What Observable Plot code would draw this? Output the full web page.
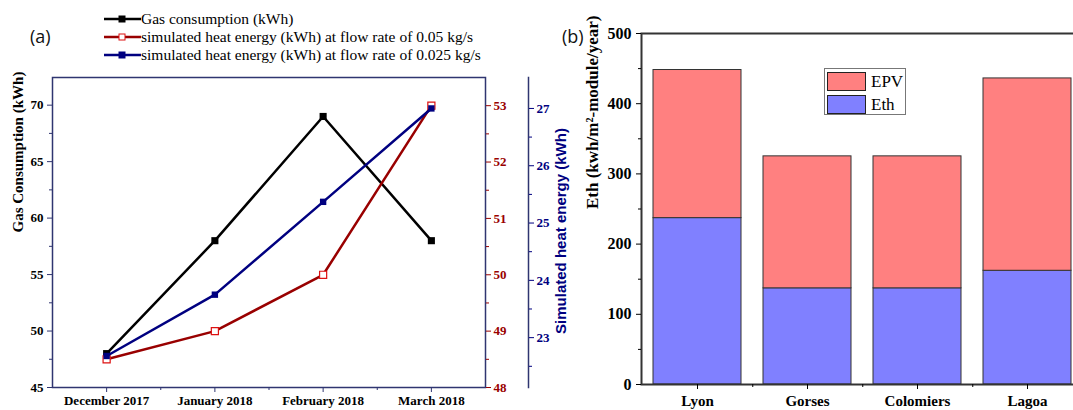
<!DOCTYPE html>
<html>
<head>
<meta charset="utf-8">
<script src="https://cdn.jsdelivr.net/npm/d3@7"></script>
<script src="https://cdn.jsdelivr.net/npm/@observablehq/plot@0.6"></script>
<style>
  html, body { margin: 0; padding: 0; background: white; overflow: hidden; }
  #root { position: relative; width: 1073px; height: 410px; overflow: hidden; }
  #root svg text { font-family: "Liberation Serif", "Times New Roman", serif !important; }
  .layer { position: absolute; top: 0; }
  .lbl { position: absolute; font-family: "Open Sans", "Liberation Sans", sans-serif; font-size: 18px; color: #111; }
  #legA { position: absolute; left: 104px; top: 10px; font-family: "Liberation Serif", "DejaVu Serif", serif; font-size: 15.5px; color: #000; }
  #legA .row { height: 18px; display: flex; align-items: center; white-space: nowrap; }
  #legB { position: absolute; left: 824px; top: 68px; width: 80px; height: 45px; border: 1.5px solid #777; background: white; font-family: "Liberation Serif", serif; font-size: 17px; }
  #legB .row { display: flex; align-items: center; height: 21px; margin: 2px 0 0 2px; }
  #legB .sw { width: 37px; height: 17px; border: 1px solid #222; margin-right: 5px; }
  #blueTitle { position: absolute; left: 560px; top: 231px; transform: translate(-50%, -50%) rotate(-90deg); white-space: nowrap;
    font-family: "Liberation Sans", Arial, sans-serif; font-weight: bold; font-size: 15px; color: #000080; }
</style>
</head>
<body>
<div id="root"></div>
<script>
// ---- Panel (a) data ----
const months = ["December 2017", "January 2018", "February 2018", "March 2018"];
const gas = [48, 58, 69, 58];
const heat005 = [48.5, 49.0, 50.0, 53.0];
const heat0025 = [22.68, 23.75, 25.37, 27.0];
const gasTicks = [45, 50, 55, 60, 65, 70];
const gasMinor = [47.5, 52.5, 57.5, 62.5, 67.5];
const redTicks = [48, 49, 50, 51, 52, 53];
const redMinor = [48.5, 49.5, 50.5, 51.5, 52.5];
const blueTicks = [23, 24, 25, 26, 27];
const blueMinor = [22.5, 23.5, 24.5, 25.5, 26.5];
const seriesNames = [
  "Gas consumption (kWh)",
  "simulated heat energy (kWh) at flow rate of 0.05 kg/s",
  "simulated heat energy (kWh) at flow rate of 0.025 kg/s"
];

// ---- Panel (b) data ----
const cities = ["Lyon", "Gorses", "Colomiers", "Lagoa"];
const eth = [237, 137, 137, 162];
const epv = [211, 188, 188, 274];
const barTicks = [0, 100, 200, 300, 400, 500];
const barMinor = [50, 150, 250, 350, 450];

const root = document.getElementById("root");
const navy = "#000080", dred = "#990000", frameC = "#2f3570";
const fmt = d => String(d);

const W1 = 600, H = 410;
const vert = { height: H, marginTop: 77, marginBottom: 23, marginLeft: 52 };
const common = {
  ...vert, width: W1, marginRight: W1 - 485,
  style: { background: "transparent", overflow: "visible" },
  x: { type: "linear", domain: [0.5, 4.5], axis: null }
};
const tbl = (vals) => vals.map((v, i) => ({ x: i + 1, y: v }));

// Gas layer
const gasPlot = Plot.plot({
  ...common,
  x: { type: "linear", domain: [0.5, 4.5] },
  y: { domain: [45, 72.45] },
  marks: [
    Plot.frame({ stroke: frameC, strokeWidth: 1.5 }),
    Plot.axisY({ ticks: gasTicks, tickFormat: fmt, tickSize: 5, tickPadding: 4, fontSize: 13, fontWeight: "bold", color: "#000", stroke: frameC, label: null }),
    Plot.axisY({ ticks: gasMinor, tickSize: 3, tickFormat: () => "", stroke: frameC, label: null }),
    Plot.axisX({ ticks: [1, 2, 3, 4], tickFormat: i => months[i - 1], tickSize: 5, tickPadding: 3, fontSize: 13, fontWeight: "bold", color: "#000", stroke: frameC, label: null }),
    Plot.axisX({ ticks: [1.5, 2.5, 3.5], tickSize: 3, tickFormat: () => "", stroke: frameC, label: null }),
    Plot.text(["Gas Consumption (kWh)"], { frameAnchor: "left", dx: -34, rotate: -90, fontSize: 15, fontWeight: "bold", fill: "#000" }),
    Plot.line(tbl(gas), { x: "x", y: "y", stroke: "#000", strokeWidth: 2.5 }),
    Plot.dot(tbl(gas), { x: "x", y: "y", symbol: "square", r: 4, fill: "#000" })
  ]
});

// Red layer (0.05 kg/s)
const redPlot = Plot.plot({
  ...common,
  y: { domain: [48, 53.5] },
  marks: [
    Plot.axisY({ anchor: "right", ticks: redTicks, tickFormat: fmt, tickSize: 5, tickPadding: 3, fontSize: 13, fontWeight: "bold", color: dred, label: null }),
    Plot.axisY({ anchor: "right", ticks: redMinor, tickSize: 3, tickFormat: () => "", stroke: dred, label: null }),
    Plot.line(tbl(heat005), { x: "x", y: "y", stroke: dred, strokeWidth: 2.5 }),
    Plot.dot(tbl(heat005), { x: "x", y: "y", symbol: "square", r: 4, fill: "white", stroke: "#dd1111", strokeWidth: 1.2 })
  ]
});

// Blue axis layer (offset axis, same vertical scale)
const blueDomain = [22.13, 27.54];
const blueAxisPlot = Plot.plot({
  ...vert, width: W1, marginRight: W1 - 528,
  style: { background: "transparent", overflow: "visible" },
  x: { domain: [0, 1], axis: null },
  y: { domain: blueDomain },
  marks: [
    Plot.frame({ anchor: "right", stroke: frameC, strokeWidth: 1.5 }),
    Plot.axisY({ anchor: "right", ticks: blueTicks, tickFormat: fmt, tickSize: 5, tickPadding: 3, fontSize: 13, fontWeight: "bold", color: navy, label: null }),
    Plot.axisY({ anchor: "right", ticks: blueMinor, tickSize: 3, tickFormat: () => "", stroke: navy, label: null })
  ]
});

// Blue layer (0.025 kg/s)
const bluePlot = Plot.plot({
  ...common,
  y: { domain: blueDomain, axis: null },
  marks: [
    Plot.line(tbl(heat0025), { x: "x", y: "y", stroke: navy, strokeWidth: 2.5 }),
    Plot.dot(tbl(heat0025), { x: "x", y: "y", symbol: "square", r: 3.6, fill: navy })
  ]
});

// Panel (b)
const W2 = 530;
const barData = [];
cities.forEach((c, i) => {
  barData.push({ city: c, series: "Eth", value: eth[i] });
  barData.push({ city: c, series: "EPV", value: epv[i] });
});
const fills = { Eth: "#8080ff", EPV: "#ff8080" };
const barPlot = Plot.plot({
  width: W2, height: H,
  marginTop: 33, marginBottom: 26, marginLeft: 81, marginRight: W2 - 523,
  style: { background: "transparent", overflow: "visible" },
  x: { type: "band", domain: cities, paddingInner: 0.2, paddingOuter: 0.1 },
  y: { domain: [0, 500] },
  color: { domain: ["Eth", "EPV"], range: [fills.Eth, fills.EPV] },
  marks: [
    Plot.barY(barData, { x: "city", y: "value", fill: "series", stroke: "#333", strokeWidth: 1, inset: 0 }),
    Plot.frame({ stroke: "#333", strokeWidth: 2 }),
    Plot.axisY({ ticks: barTicks, tickFormat: fmt, tickSize: 5, tickPadding: 5, fontSize: 16, fontWeight: "bold", color: "#000", label: null }),
    Plot.axisY({ ticks: barMinor, tickSize: 3, tickFormat: () => "", stroke: "#000", label: null }),
    Plot.axisX({ ticks: cities, tickSize: 5, tickPadding: 6, fontSize: 15, fontWeight: "bold", color: "#000", label: null }),
    Plot.axisX({ ticks: cities.slice(0, 3), dx: 55.25, tickSize: 3, tickFormat: () => "", stroke: "#000", label: null }),
    Plot.text(["Eth (kwh/m²-module/year)"], { frameAnchor: "left", dx: -49, rotate: -90, fontSize: 17, fontWeight: "bold", fill: "#000" })
  ]
});

[gasPlot, redPlot, blueAxisPlot, bluePlot].forEach(p => {
  p.classList.add("layer"); p.style.left = "0px"; root.appendChild(p);
});
barPlot.classList.add("layer"); barPlot.style.left = "560px"; root.appendChild(barPlot);

// Blue axis title
const bt = document.createElement("div"); bt.id = "blueTitle"; bt.textContent = "Simulated heat energy (kWh)"; root.appendChild(bt);

// Panel labels
const la = document.createElement("div"); la.className = "lbl"; la.style.left = "30px"; la.style.top = "24px"; la.textContent = "(a)"; root.appendChild(la);
const lb = document.createElement("div"); lb.className = "lbl"; lb.style.left = "562px"; lb.style.top = "24px"; lb.textContent = "(b)"; root.appendChild(lb);

// Legend (a)
const legA = document.createElement("div"); legA.id = "legA";
const legStyles = [
  { stroke: "#000", fill: "#000", mstroke: "#000" },
  { stroke: dred, fill: "white", mstroke: "#dd1111" },
  { stroke: navy, fill: navy, mstroke: navy }
];
seriesNames.forEach((name, i) => {
  const s = legStyles[i];
  const row = document.createElement("div"); row.className = "row";
  row.innerHTML = `<svg width="37" height="10"><line x1="0" y1="5" x2="37" y2="5" stroke="${s.stroke}" stroke-width="2.5"/><rect x="15" y="2" width="6" height="6" fill="${s.fill}" stroke="${s.mstroke}" stroke-width="1"/></svg><span></span>`;
  row.querySelector("span").textContent = name;
  legA.appendChild(row);
});
root.appendChild(legA);

// Legend (b)
const legB = document.createElement("div"); legB.id = "legB";
["EPV", "Eth"].forEach(k => {
  const row = document.createElement("div"); row.className = "row";
  row.innerHTML = `<div class="sw" style="background:${fills[k]}"></div><span>${k}</span>`;
  legB.appendChild(row);
});
root.appendChild(legB);
</script>
</body>
</html>
